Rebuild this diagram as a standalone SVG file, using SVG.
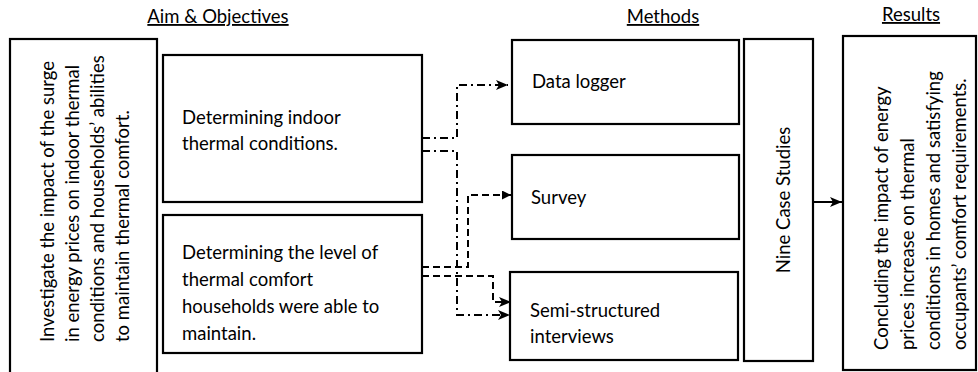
<svg xmlns="http://www.w3.org/2000/svg" width="978" height="372" viewBox="0 0 978 372">
<style>
text{font-family:Lato,"Open Sans",sans-serif;fill:#000}
.t{font-size:18.5px}
.h{font-size:18.5px;text-decoration:underline;text-anchor:middle}
.box{fill:#fff;stroke:#000;stroke-width:2.2}
.dd{fill:none;stroke:#000;stroke-width:2;stroke-dasharray:8 4 2 4}
.ds{fill:none;stroke:#000;stroke-width:2;stroke-dasharray:7 4}
.sl{fill:none;stroke:#000;stroke-width:2}
</style>
<defs>
<marker id="st" viewBox="0 0 12 10" refX="12" refY="5" markerWidth="12" markerHeight="10" markerUnits="userSpaceOnUse" orient="auto">
<path d="M0,0 L12,5 L0,10 L3,5 Z" fill="#000"/>
</marker>
<marker id="tr" viewBox="0 0 10 10" refX="10" refY="5" markerWidth="9" markerHeight="9" markerUnits="userSpaceOnUse" orient="auto">
<path d="M0,0 L10,5 L0,10 Z" fill="#000"/>
</marker>
</defs>
<g id="headings">
<text class="h" x="218" y="23">Aim &amp; Objectives</text>
<text class="h" x="663" y="23">Methods</text>
<text class="h" x="911" y="21">Results</text>
</g>
<g id="aim">
<rect class="box" x="10" y="39" width="147" height="340"/>
<text class="t" transform="translate(0,342) rotate(-90)"><tspan x="0" y="54">Investigate the impact of the surge</tspan><tspan x="0" y="79">in energy prices on indoor thermal</tspan><tspan x="0" y="104">conditions and households’ abilities</tspan><tspan x="0" y="129">to maintain thermal comfort.</tspan></text>
</g>
<g id="obj1">
<rect class="box" x="163" y="55" width="259" height="147"/>
<text class="t"><tspan x="182" y="124">Determining indoor</tspan><tspan x="182" y="150">thermal conditions.</tspan></text>
</g>
<g id="obj2">
<rect class="box" x="163" y="215" width="259" height="138"/>
<text class="t"><tspan x="182" y="259">Determining the level of</tspan><tspan x="182" y="286">thermal comfort</tspan><tspan x="182" y="313">households were able to</tspan><tspan x="182" y="340">maintain.</tspan></text>
</g>
<g id="datalogger">
<rect class="box" x="512" y="40" width="227" height="84"/>
<text class="t" x="532" y="88">Data logger</text>
</g>
<g id="survey">
<rect class="box" x="512" y="155" width="227" height="84"/>
<text class="t" x="531" y="204">Survey</text>
</g>
<g id="interviews">
<rect class="box" x="510" y="272" width="228" height="88"/>
<text class="t"><tspan x="530" y="317">Semi-structured</tspan><tspan x="530" y="343">interviews</tspan></text>
</g>
<g id="cases">
<rect class="box" x="744" y="39" width="69" height="322"/>
<text class="t" text-anchor="middle" transform="translate(790,200) rotate(-90)" x="0" y="0">Nine Case Studies</text>
</g>
<g id="results">
<rect class="box" x="843" y="36" width="133" height="334"/>
<text class="t" transform="translate(0,350) rotate(-90)"><tspan x="0" y="888">Concluding the impact of energy</tspan><tspan x="0" y="914">prices increase on thermal</tspan><tspan x="0" y="940">conditions in homes and satisfying</tspan><tspan x="0" y="966">occupants’ comfort requirements.</tspan></text>
</g>
<g id="connectors">
<path class="dd" d="M422,138 H457 V85 H508" marker-end="url(#st)"/>
<path class="dd" d="M422,151 H457 V315 H510" marker-end="url(#st)"/>
<path class="ds" d="M422,267 H468 V195 H511" marker-end="url(#tr)"/>
<path class="ds" d="M422,276 H493 V302 H511" marker-end="url(#st)"/>
<path class="sl" d="M813,202 H842" marker-end="url(#st)"/>
</g>
</svg>
